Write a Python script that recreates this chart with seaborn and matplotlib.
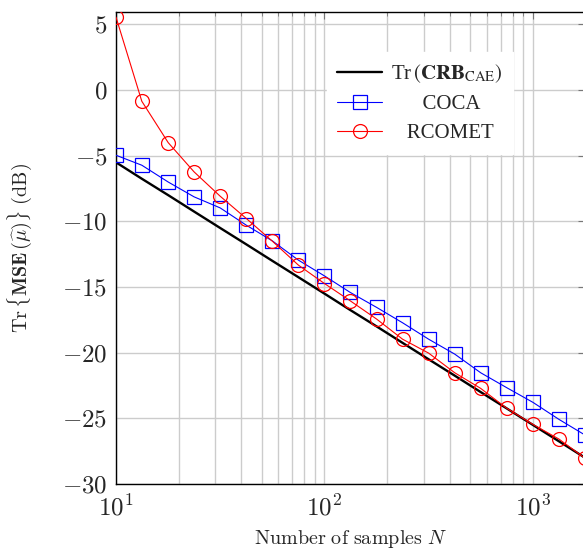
import numpy as np
import pandas as pd
import matplotlib
matplotlib.use("Agg")
import matplotlib.pyplot as plt
import matplotlib.ticker as mticker
import seaborn as sns

# Données
n_samples = [10, 13.3, 17.8, 23.7, 31.6, 42.2, 56.2, 75, 100, 133, 178, 237,
             316, 422, 562, 750, 1000, 1334, 1778]
crb_cae = [-5.5, -6.75, -8.0, -9.25, -10.5, -11.75, -13.0, -14.25, -15.5,
           -16.75, -18.0, -19.25, -20.5, -21.75, -23.0, -24.25, -25.5, -26.75, -28.0]
coca = [-4.96, -5.72, -7.0, -8.13, -8.97, -10.29, -11.48, -12.95, -14.15,
        -15.41, -16.55, -17.72, -18.97, -20.11, -21.53, -22.67, -23.78, -25.08, -26.27]
rcomet = [5.56, -0.85, -4.0, -6.23, -8.08, -9.78, -11.5, -13.33, -14.73,
          -16.05, -17.44, -18.97, -20.03, -21.53, -22.72, -24.24, -25.46, -26.58, -28.04]

y_ticks = [-30, -25, -20, -15, -10, -5, 0, 5]
x_ticks = [10, 100, 1000]

sns.set_style("white")
plt.rcParams["font.family"] = ["Liberation Serif", "DejaVu Serif"]
plt.rcParams["mathtext.fontset"] = "cm"

fig = plt.figure(figsize=(5.83, 5.5), dpi=100)
ax = fig.add_axes([116 / 583, 66 / 550, 469 / 583, 472 / 550])

df = pd.DataFrame({"N": n_samples, "crb": crb_cae, "coca": coca, "rcomet": rcomet})

# légendes centrées à la main (espaces en tête)
sns.lineplot(data=df, x="N", y="crb", ax=ax, color="black", lw=1.7,
             label=r"Tr$\,(\mathbf{CRB}_{\mathrm{CAE}})$", zorder=3)
sns.lineplot(data=df, x="N", y="coca", ax=ax, color="blue", lw=0.8,
             marker="s", markersize=10, markerfacecolor="none",
             markeredgecolor="blue", markeredgewidth=0.9, label="      COCA", zorder=4)
sns.lineplot(data=df, x="N", y="rcomet", ax=ax, color="red", lw=0.8,
             marker="o", markersize=10, markerfacecolor="none",
             markeredgecolor="red", markeredgewidth=0.9, label="   RCOMET", zorder=5)

ax.set_xscale("log")
ax.set_xlim(10, 1778)
ax.set_ylim(-30, 5.95)
ax.set_yticks(y_ticks)
ax.set_xticks(x_ticks)
ax.yaxis.set_major_formatter(mticker.FuncFormatter(lambda v, p: r"$%d$" % v))
ax.xaxis.set_major_formatter(mticker.FuncFormatter(lambda v, p: r"$10^{%d}$" % round(np.log10(v))))
ax.xaxis.set_minor_formatter(mticker.NullFormatter())

ax.grid(True, which="major", color="#cccccc", lw=1.0)
ax.grid(True, which="minor", axis="x", color="#cccccc", lw=1.0)
ax.tick_params(which="both", direction="in", top=True, right=True,
               labelsize=18, color="#777777")
ax.tick_params(which="major", length=5)
ax.tick_params(which="minor", length=3)
ax.tick_params(axis="x", pad=8)
ax.tick_params(axis="y", pad=6)
for s in ax.spines.values():
    s.set_color("black")
    s.set_linewidth(1.0)

ax.set_xlabel(r"$\mathrm{Number\ of\ samples}\ N$", fontsize=14.5, labelpad=5)
ax.set_ylabel(r"$\mathrm{Tr}\,\{\mathbf{MSE}\,(\widehat{\mu})\}\ \mathrm{(dB)}$",
              fontsize=14.5, labelpad=20)

leg = ax.legend(loc="upper left", bbox_to_anchor=(0.45, 0.915), fontsize=15,
                frameon=True, fancybox=False, edgecolor="white", framealpha=1,
                handlelength=2.15, borderpad=0.5, labelspacing=0.45,
                handletextpad=0.4, borderaxespad=0)
for t in leg.get_texts():
    t.set_math_fontfamily("stix")

fig.savefig("out.png", dpi=100)
